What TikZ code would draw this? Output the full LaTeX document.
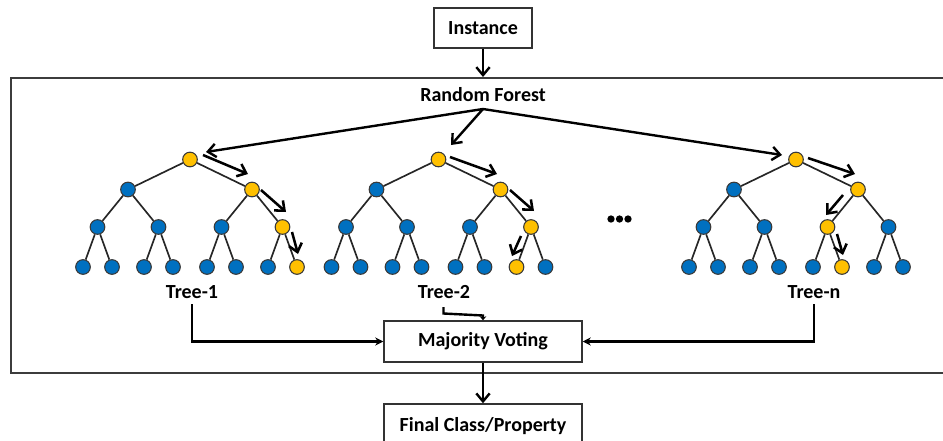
\documentclass[tikz,border=0pt]{standalone}
\usepackage{fontspec}
\setmainfont{Carlito}
\usetikzlibrary{arrows.meta,calc}

\definecolor{nodeblue}{HTML}{0070C0}
\definecolor{nodeyellow}{HTML}{FFC000}
\definecolor{rimgray}{HTML}{3A3A3A}
\definecolor{framegray}{HTML}{3C3C3C}

\tikzset{
  lab/.style={font=\bfseries\fontsize{15}{18}\selectfont, inner sep=1pt},
  box/.style={lab, draw=black!80, line width=1.1pt, fill=white},
  tn/.style={circle, draw=rimgray, line width=0.8pt, fill=nodeblue,
             minimum size=11pt, inner sep=0pt},
  yel/.style={fill=nodeyellow},
  edge/.style={line width=1.25pt, draw=black!85},
  bigarrow/.style={line width=1.8pt, -{Straight Barb[length=6pt,width=10pt]}},
  patharrow/.style={line width=1.9pt, -{Straight Barb[length=6pt,width=10pt]}},
  conn/.style={line width=1.7pt, -{Stealth[length=6pt,width=6pt]}},
  % highlighted (decision) path in each tree
  hlAr/.style=yel, hlA1/.style=yel, hlA11/.style=yel, hlA111/.style=yel,
  hlBr/.style=yel, hlB1/.style=yel, hlB11/.style=yel, hlB110/.style=yel,
  hlNr/.style=yel, hlN1/.style=yel, hlN10/.style=yel, hlN101/.style=yel,
}

% #1 = tree prefix, #2 = x of the root
\newcommand\drawtree[2]{%
  \node[tn,hl#1r/.try]   (#1-r)   at (#2,159.5) {};
  \node[tn,hl#10/.try]   (#1-0)   at ({#2-62},189.5) {};
  \node[tn,hl#11/.try]   (#1-1)   at ({#2+62},189.5) {};
  \node[tn,hl#100/.try]  (#1-00)  at ({#2-92.5},227) {};
  \node[tn,hl#101/.try]  (#1-01)  at ({#2-31.5},227) {};
  \node[tn,hl#110/.try]  (#1-10)  at ({#2+31.5},227) {};
  \node[tn,hl#111/.try]  (#1-11)  at ({#2+92.5},227) {};
  \node[tn,hl#1000/.try] (#1-000) at ({#2-107},267) {};
  \node[tn,hl#1001/.try] (#1-001) at ({#2-78},267) {};
  \node[tn,hl#1010/.try] (#1-010) at ({#2-46},267) {};
  \node[tn,hl#1011/.try] (#1-011) at ({#2-17},267) {};
  \node[tn,hl#1100/.try] (#1-100) at ({#2+17},267) {};
  \node[tn,hl#1101/.try] (#1-101) at ({#2+46},267) {};
  \node[tn,hl#1110/.try] (#1-110) at ({#2+78},267) {};
  \node[tn,hl#1111/.try] (#1-111) at ({#2+107},267) {};
  \draw[edge] (#1-r) -- (#1-0) (#1-r) -- (#1-1)
              (#1-0) -- (#1-00) (#1-0) -- (#1-01)
              (#1-1) -- (#1-10) (#1-1) -- (#1-11)
              (#1-00) -- (#1-000) (#1-00) -- (#1-001)
              (#1-01) -- (#1-010) (#1-01) -- (#1-011)
              (#1-10) -- (#1-100) (#1-10) -- (#1-101)
              (#1-11) -- (#1-110) (#1-11) -- (#1-111);
}

\begin{document}
\begin{tikzpicture}[x=0.75pt,y=-0.75pt]
  \path[use as bounding box] (0,0) rectangle (943,440);
  \clip (0,0) rectangle (943,440);

  % enclosing frame of the forest
  \draw[framegray, line width=1.4pt] (11,78) rectangle (960,373);

  \node[box, minimum width=73.5pt, minimum height=30pt] (inst) at (483,28) {Instance};
  \node[lab] (rf) at (483,95) {Random Forest};
  \draw[bigarrow] (inst.south) -- (483,77);

  \drawtree{A}{190}
  \drawtree{B}{438.5}
  \drawtree{N}{796}

  % ellipsis between the trees
  \foreach \i/\x in {1/611,2/619.5,3/628}
    \node[circle, fill=black, minimum size=5.5pt, inner sep=0pt] (dot\i) at (\x,219) {};

  % dispatch from the forest to the roots
  \coordinate (split) at (483,109);
  \draw[bigarrow] (split) -- (206,152);
  \draw[bigarrow] (split) -- (451,145);
  \draw[bigarrow] (split) -- (782,155);

  % traversal arrows beside the highlighted paths
  \draw[patharrow] (203,155) -- (248,174);
  \draw[patharrow] (261,190) -- (286,212);
  \draw[patharrow] (292,232) -- (298,254);

  \draw[patharrow] (450,157) -- (497,174);
  \draw[patharrow] (510,190) -- (534,211);
  \draw[patharrow] (521,236) -- (512,256);

  \draw[patharrow] (808,158) -- (855,174);
  \draw[patharrow] (843,195) -- (826,215);
  \draw[patharrow] (837,234) -- (843,255);

  % tree labels
  \node[lab] (tl1) at (192,292) {Tree-1};
  \node[lab] (tl2) at (444,292) {Tree-2};
  \node[lab] (tln) at (814,292) {Tree-n};

  \node[box, minimum width=148.5pt, minimum height=30.75pt] (mv) at (483,341.5) {Majority Voting};
  \node[box, minimum width=148.5pt, minimum height=33pt] (fc) at (483,426) {Final Class/Property};

  \draw[conn] ([yshift=-3pt]tl1.south) |- (mv.west);
  \draw[conn] ([yshift=-3pt]tln.south) |- (mv.east);
  \coordinate (k1) at (443.5,307);
  \coordinate (k2) at (443.5,313.5);
  \coordinate (k3) at (483,315.5);
  \draw[line width=1.8pt, -{Stealth[length=3pt,width=5pt]}] (k1) -- (k2) -- (k3) -- (mv.north);
  \draw[bigarrow] (mv.south) -- (fc.north);
\end{tikzpicture}
\end{document}
